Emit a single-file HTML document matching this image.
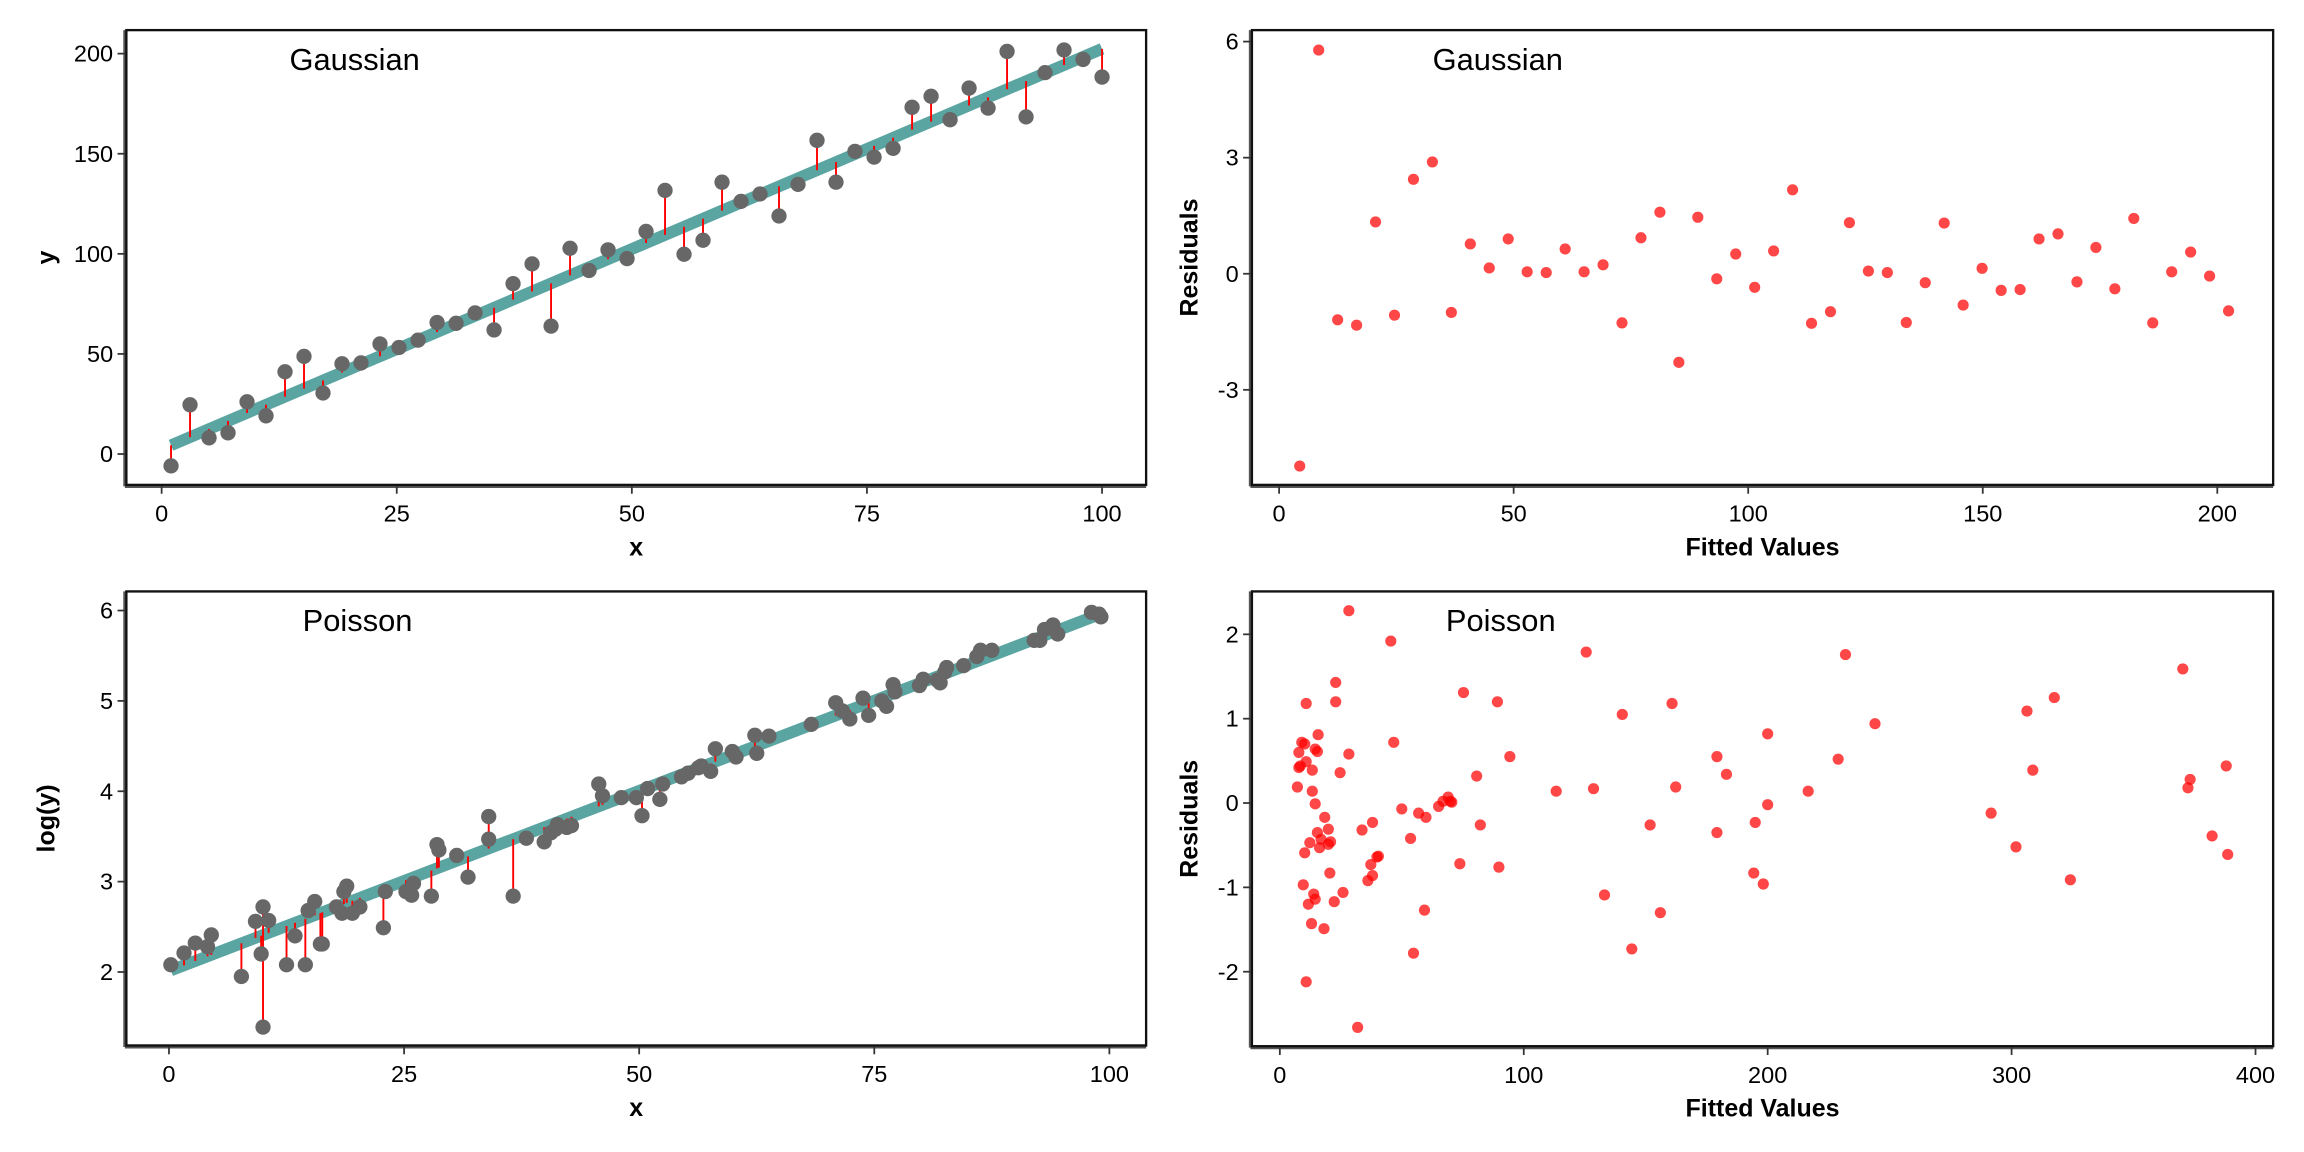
<!DOCTYPE html>
<html><head><meta charset="utf-8">
<style>
html,body{margin:0;padding:0;background:#fff;}
svg{display:block;}
text{font-family:"Liberation Sans",Arial,sans-serif;}
</style></head>
<body>
<svg id="chart" width="2304" height="1152" viewBox="0 0 1568 784" xmlns="http://www.w3.org/2000/svg">
<rect x="0" y="0" width="1568" height="784" fill="#fff"/>
</svg>
<script>
// ---- Gaussian fit data ----
const gX = [1,3.02,5.04,7.06,9.08,11.1,13.12,15.14,17.16,19.18,21.2,23.22,25.24,27.27,29.29,31.31,33.33,35.35,37.37,39.39,41.41,43.43,45.45,47.47,49.49,51.51,53.53,55.55,57.57,59.59,61.61,63.63,65.65,67.67,69.69,71.71,73.73,75.76,77.78,79.8,81.82,83.84,85.86,87.88,89.9,91.92,93.94,95.96,97.98,100];
const gY = [-5.9,24.6,8.1,10.6,26.1,19.1,41.1,48.8,30.5,45.1,45.5,55.0,53.2,56.9,65.7,65.3,70.5,62.0,85.1,95.0,63.9,102.8,91.7,102.0,97.6,111.2,131.7,99.8,106.8,135.8,126.2,129.9,118.9,134.7,156.7,135.8,151.2,148.3,152.7,173.2,178.7,167.0,182.8,172.8,201.1,168.4,190.5,201.8,197.1,188.3];
const gIntercept = 2.4, gSlope = 2.0;
const gResid = [-4.97,5.78,-1.19,-1.33,1.34,-1.07,2.44,2.89,-1.0,0.77,0.15,0.90,0.05,0.03,0.64,0.05,0.23,-1.27,0.93,1.59,-2.29,1.46,-0.13,0.51,-0.35,0.59,2.17,-1.28,-0.98,1.32,0.07,0.03,-1.26,-0.23,1.31,-0.81,0.14,-0.43,-0.41,0.90,1.03,-0.21,0.68,-0.39,1.43,-1.27,0.05,0.56,-0.06,-0.96];
// ---- Poisson fit data ----
const pX = [0.2,1.6,2.8,4.5,4.1,7.7,9.2,10.0,9.8,10.0,10.6,12.5,13.4,14.5,14.8,15.5,16.1,16.3,17.8,18.4,18.6,18.9,19.5,20.3,22.8,23.0,25.2,25.8,26.0,27.9,28.5,28.7,30.6,31.8,34.0,34.0,36.6,38.0,39.9,40.6,41.1,41.3,42.3,42.8,45.7,46.1,48.1,49.7,50.3,50.9,52.2,52.5,54.5,55.2,56.3,56.6,57.6,58.1,59.9,60.3,62.3,62.5,63.8,68.3,70.9,71.6,72.4,73.8,74.4,75.8,76.3,77.0,77.2,79.8,80.2,81.7,82.0,82.5,82.7,84.5,85.9,86.3,87.5,92.0,92.6,93.1,94.0,94.5,98.1,98.9,99.1];
const pLogY = [2.08,2.21,2.32,2.41,2.28,1.95,2.56,2.72,2.20,1.39,2.57,2.08,2.40,2.08,2.68,2.78,2.31,2.31,2.72,2.65,2.89,2.95,2.65,2.72,2.49,2.89,2.89,2.85,2.98,2.84,3.41,3.35,3.29,3.05,3.72,3.47,2.84,3.48,3.44,3.54,3.58,3.63,3.60,3.62,4.08,3.95,3.93,3.93,3.73,4.03,3.91,4.08,4.16,4.20,4.26,4.28,4.22,4.47,4.44,4.38,4.62,4.42,4.61,4.74,4.98,4.89,4.80,5.03,4.84,5.00,4.94,5.18,5.10,5.17,5.24,5.23,5.20,5.32,5.37,5.39,5.49,5.56,5.56,5.67,5.67,5.79,5.84,5.74,5.98,5.96,5.93];
const pIntercept = 2.01, pSlope = 0.0399;
const pFitted = [7.2,7.8,8.4,7.8,9.0,10.2,10.8,10.8,10.2,9.6,10.8,11.7,12.3,13.0,13.3,13.3,13.9,14.5,14.5,14.5,15.4,15.4,15.7,16.3,16.9,18.1,18.4,19.9,19.9,20.5,20.8,22.3,22.9,22.9,24.7,25.9,28.3,28.3,31.9,33.7,36.1,37.3,38.0,38.0,39.8,40.4,45.5,46.7,50.0,53.6,54.8,56.9,59.3,59.9,65.1,66.9,69.0,69.9,70.5,73.8,75.3,80.7,82.2,89.2,89.8,94.3,113.3,125.6,128.6,133.1,140.4,144.3,151.8,156.0,160.8,162.3,179.2,179.2,183.1,194.3,194.9,198.2,200.0,200.0,216.6,228.9,231.9,244.0,291.6,301.8,306.3,308.7,317.5,324.1,370.2,372.3,373.2,382.2,388.0,388.6];
const pResid = [0.19,0.42,0.44,0.60,0.72,0.70,1.18,0.49,-0.59,-0.97,-2.12,-1.20,-0.47,-1.43,0.39,0.14,-1.08,-1.14,-0.01,0.64,0.61,-0.35,0.81,-0.53,-0.43,-1.49,-0.17,-0.31,-0.49,-0.83,-0.46,-1.17,1.20,1.43,0.36,-1.06,2.28,0.58,-2.66,-0.32,-0.92,-0.73,-0.23,-0.86,-0.64,-0.63,1.92,0.72,-0.07,-0.42,-1.78,-0.12,-1.27,-0.17,-0.04,0.02,0.07,0.02,0.01,-0.72,1.31,0.32,-0.26,1.20,-0.76,0.55,0.14,1.79,0.17,-1.09,1.05,-1.73,-0.26,-1.30,1.18,0.19,0.55,-0.35,0.34,-0.83,-0.23,-0.96,-0.02,0.82,0.14,0.52,1.76,0.94,-0.12,-0.52,1.09,0.39,1.25,-0.91,1.59,0.18,0.28,-0.39,0.44,-0.61];
// ---- tick labels ----
const tlXTicks = [0,25,50,75,100], tlYTicks = [0,50,100,150,200];
const trXTicks = [0,50,100,150,200], trYTicks = [-3,0,3,6];
const blXTicks = [0,25,50,75,100], blYTicks = [2,3,4,5,6];
const brXTicks = [0,100,200,300,400], brYTicks = [-2,-1,0,1,2];

const NS = "http://www.w3.org/2000/svg";
const svg = document.getElementById('chart');
function mk(tag, attrs, parent) {
  const e = document.createElementNS(NS, tag);
  for (const k in attrs) e.setAttribute(k, attrs[k]);
  (parent || svg).appendChild(e);
  return e;
}
function lin(d0, d1, r0, r1) { return v => r0 + (v - d0) * (r1 - r0) / (d1 - d0); }

function panel(p) {
  const g = mk('g', {});
  
  
  const sx = lin(p.xd[0], p.xd[1], p.xr[0], p.xr[1]);
  const sy = lin(p.yd[0], p.yd[1], p.yr[0], p.yr[1]);
  const ax = mk('g', {}, g);
  
  
  mk('line', {x1: p.L - 1, y1: p.T, x2: p.L - 1, y2: p.B + 1, stroke: '#555', 'stroke-width': 2.2}, ax);
  mk('line', {x1: p.L - 1, y1: p.B + 1, x2: p.R, y2: p.B + 1, stroke: '#555', 'stroke-width': 2.2}, ax);
  p.xt.forEach(v => {
    const x = sx(v);
    mk('line', {x1: x, y1: p.B + 1, x2: x, y2: p.B + 6, stroke: '#333', 'stroke-width': 1.2}, ax);
    const t = mk('text', {x: x, y: p.B + 25, 'font-size': 16, 'text-anchor': 'middle', fill: '#000'}, ax);
    t.textContent = v;
    
    
  });
  p.yt.forEach(v => {
    const y = sy(v);
    mk('line', {x1: p.L - 6, y1: y, x2: p.L - 1, y2: y, stroke: '#333', 'stroke-width': 1.2}, ax);
    const t = mk('text', {x: p.L - 9, y: y + 5.5, 'font-size': 16, 'text-anchor': 'end', fill: '#000'}, ax);
    t.textContent = v;
    
    
  });
  const clipId = 'clip-' + p.name;
  const cp = mk('clipPath', {id: clipId}, g);
  mk('rect', {x: p.L, y: p.T, width: p.R - p.L, height: p.B - p.T}, cp);
  const plot = mk('g', {'clip-path': 'url(#' + clipId + ')'}, g);
  
  
  p.draw(plot, sx, sy);
  mk('rect', {x: p.L, y: p.T, width: p.R - p.L, height: p.B - p.T, fill: 'none', stroke: '#111', 'stroke-width': 1.6}, g);
  const title = mk('text', {x: p.titleX, y: p.T + 27, 'font-size': 21, fill: '#000'}, g);
  title.textContent = p.title;
  
  
  const xl = mk('text', {x: (p.L + p.R) / 2, y: p.B + 48, 'font-size': 17, 'font-weight': 'bold', 'text-anchor': 'middle', fill: '#000'}, g);
  xl.textContent = p.xlab;
  
  
  const cy = (p.T + p.B) / 2;
  const yl = mk('text', {x: p.ylX, y: cy, 'font-size': 17, 'font-weight': 'bold', 'text-anchor': 'middle', fill: '#000', transform: 'rotate(-90 ' + p.ylX + ' ' + cy + ')'}, g);
  yl.textContent = p.ylab;
  
  
}

function fitDraw(xs, ys, a, b) {
  return function (plot, sx, sy) {
    const x0 = xs[0], x1 = xs[xs.length - 1];
    const ln = mk('line', {x1: sx(x0), y1: sy(a + b * x0), x2: sx(x1), y2: sy(a + b * x1), stroke: '#5aa5a1', 'stroke-width': 8}, plot);
    
    
    xs.forEach((x, i) => {
      const s = mk('line', {x1: sx(x), y1: sy(ys[i]), x2: sx(x), y2: sy(a + b * x), stroke: '#ff0000', 'stroke-width': 1.3}, plot);
      
      
    });
    xs.forEach((x, i) => {
      const c = mk('circle', {cx: sx(x), cy: sy(ys[i]), r: 5.2, fill: '#676767'}, plot);
      
      
    });
  };
}
function residDraw(xs, ys) {
  return function (plot, sx, sy) {
    xs.forEach((x, i) => {
      const c = mk('circle', {cx: sx(x), cy: sy(ys[i]), r: 3.8, fill: '#ff0000', 'fill-opacity': 0.72}, plot);
      
      
    });
  };
}

panel({name: 'gaussian-fit-panel', L: 86, R: 780, T: 20.5, B: 330, xd: [0, 100], xr: [110, 750], yd: [0, 200], yr: [309, 36.5],
  xt: tlXTicks, yt: tlYTicks, title: 'Gaussian', titleX: 197, xlab: 'x', ylab: 'y', ylX: 37,
  draw: fitDraw(gX, gY, gIntercept, gSlope)});
panel({name: 'gaussian-residual-panel', L: 852, R: 1547, T: 20.5, B: 330, xd: [0, 200], xr: [870.5, 1509], yd: [0, 6], yr: [186.3, 28.3],
  xt: trXTicks, yt: trYTicks, title: 'Gaussian', titleX: 975, xlab: 'Fitted Values', ylab: 'Residuals', ylX: 815,
  draw: residDraw(gX.map(x => gIntercept + gSlope * x), gResid)});
panel({name: 'poisson-fit-panel', L: 86, R: 780, T: 402.5, B: 711.5, xd: [0, 100], xr: [115, 755], yd: [2, 6], yr: [661.5, 415.5],
  xt: blXTicks, yt: blYTicks, title: 'Poisson', titleX: 206, xlab: 'x', ylab: 'log(y)', ylX: 37,
  draw: fitDraw(pX, pLogY, pIntercept, pSlope)});
panel({name: 'poisson-residual-panel', L: 852, R: 1547, T: 402.5, B: 712, xd: [0, 400], xr: [871, 1535], yd: [0, 2], yr: [546.5, 431.7],
  xt: brXTicks, yt: brYTicks, title: 'Poisson', titleX: 984, xlab: 'Fitted Values', ylab: 'Residuals', ylX: 815,
  draw: residDraw(pFitted, pResid)});
</script>
</body></html>
